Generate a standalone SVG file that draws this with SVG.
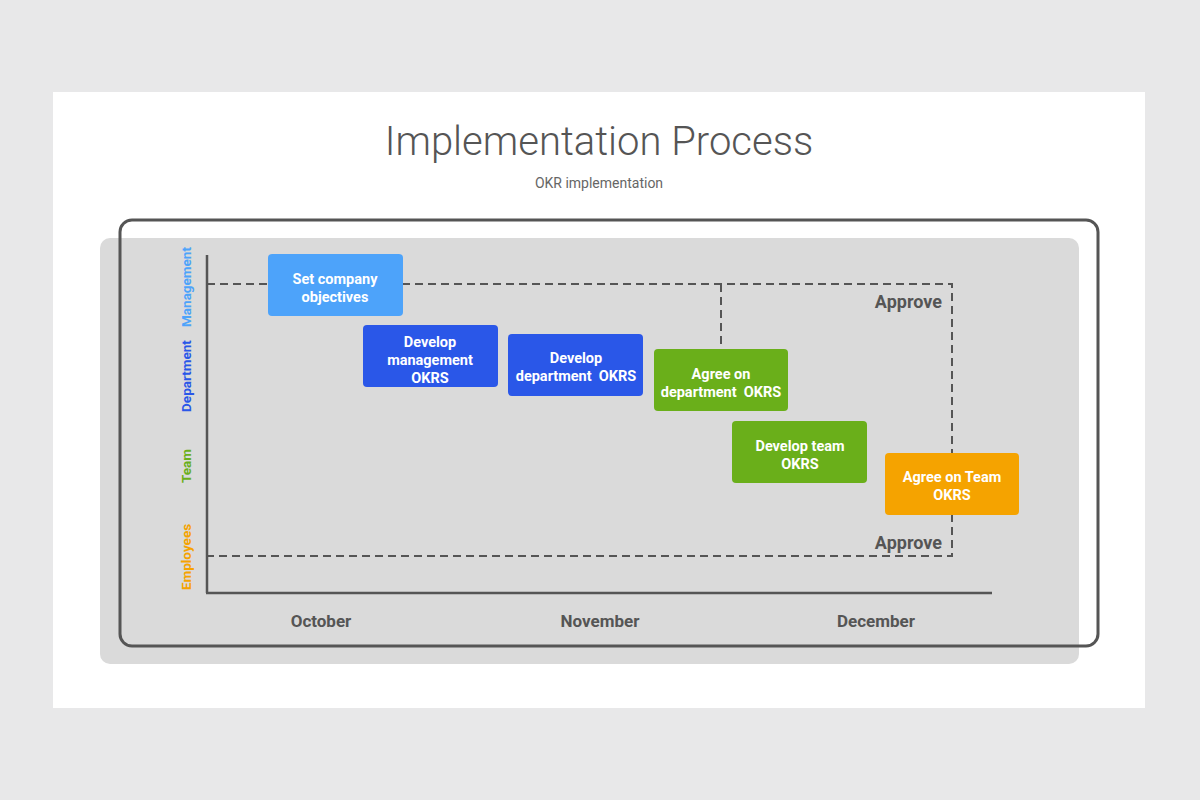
<svg xmlns="http://www.w3.org/2000/svg" width="1200" height="800" viewBox="0 0 1200 800">
<style>
.box text{font-family:Roboto,"Liberation Sans",sans-serif;font-weight:bold;font-size:14.5px;fill:#fff;text-anchor:middle}
.dash{fill:none;stroke:#555;stroke-width:2;stroke-dasharray:8 5}
.month{font-family:Roboto,"Liberation Sans",sans-serif;font-weight:bold;font-size:17px;fill:#555;text-anchor:middle}
.lane{font-family:Roboto,"Liberation Sans",sans-serif;font-weight:bold;font-size:13.5px;text-anchor:middle}
.appr{font-family:Roboto,"Liberation Sans",sans-serif;font-weight:bold;font-size:18px;fill:#555;text-anchor:end}
</style>
<rect width="1200" height="800" fill="#e8e8e9"/>
<rect x="53" y="92" width="1092" height="616" fill="#ffffff"/>
<text x="599" y="155" font-family="Roboto,'Liberation Sans',sans-serif" font-weight="300" font-size="40" fill="#555" text-anchor="middle">Implementation Process</text>
<text x="599" y="188" font-family="Roboto,'Liberation Sans',sans-serif" font-size="14" fill="#666" text-anchor="middle">OKR implementation</text>
<rect x="100" y="238" width="979" height="426" rx="10" fill="#dadada"/>
<rect x="120" y="220" width="978" height="426" rx="12" fill="none" stroke="#555" stroke-width="3"/>
<g id="axes" stroke="#555" stroke-width="2.5" fill="none">
<line x1="207" y1="255" x2="207" y2="593"/>
<line x1="206" y1="593" x2="992" y2="593"/>
</g>
<g id="connectors">
<path class="dash" d="M207 284 H952 V556 H207"/>
<path class="dash" d="M721 284 V349"/>
</g>
<text class="appr" x="942" y="308">Approve</text>
<text class="appr" x="942" y="549">Approve</text>
<g id="lanes">
<text class="lane" fill="#4da3fa" transform="translate(191 287) rotate(-90)">Management</text>
<text class="lane" fill="#2a57e8" transform="translate(191 376) rotate(-90)">Department</text>
<text class="lane" fill="#6aaf1a" transform="translate(191 466) rotate(-90)">Team</text>
<text class="lane" fill="#f5a300" transform="translate(191 557) rotate(-90)">Employees</text>
</g>
<g id="months">
<text class="month" x="321" y="627">October</text>
<text class="month" x="600" y="627">November</text>
<text class="month" x="876" y="627">December</text>
</g>
<g id="n1" class="box"><rect x="268" y="254" width="135" height="62" rx="4" fill="#4da3fa"/><text x="335" y="284">Set company</text><text x="335" y="302">objectives</text></g>
<g id="n2" class="box"><rect x="363" y="325" width="135" height="62" rx="4" fill="#2a57e8"/><text x="430" y="347">Develop</text><text x="430" y="365">management</text><text x="430" y="383">OKRS</text></g>
<g id="n3" class="box"><rect x="508" y="334" width="135" height="62" rx="4" fill="#2a57e8"/><text x="576" y="363">Develop</text><text x="576" y="381" xml:space="preserve">department  OKRS</text></g>
<g id="n4" class="box"><rect x="654" y="349" width="134" height="62" rx="4" fill="#6aaf1a"/><text x="721" y="379">Agree on</text><text x="721" y="397" xml:space="preserve">department  OKRS</text></g>
<g id="n5" class="box"><rect x="732" y="421" width="135" height="62" rx="4" fill="#6aaf1a"/><text x="800" y="451">Develop team</text><text x="800" y="469">OKRS</text></g>
<g id="n6" class="box"><rect x="885" y="453" width="134" height="62" rx="4" fill="#f5a300"/><text x="952" y="482">Agree on Team</text><text x="952" y="500">OKRS</text></g>
</svg>
